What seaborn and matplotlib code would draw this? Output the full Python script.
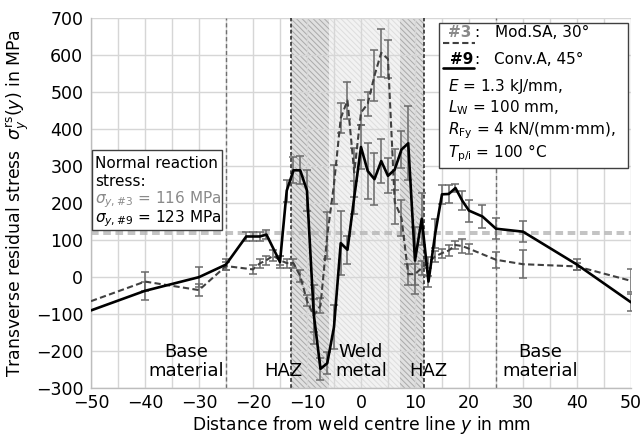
import matplotlib
matplotlib.use("Agg")
import numpy as np
import pandas as pd
import matplotlib.pyplot as plt
import seaborn as sns
from matplotlib.patches import Rectangle
from matplotlib.lines import Line2D

# Measurement positions y (mm) and transverse residual stress (MPa)
# Weld #9: Conv.A, 45 deg
y_9 = [-50, -40, -30, -25, -21.25, -20, -18.75, -17.5, -15, -13.75, -12.5, -11.25, -10,
       -8.75, -7.5, -6.25, -5, -3.75, -2.5, -1.25, 0, 1.25, 2.5, 3.75, 5, 6.25, 7.5, 8.75,
       10, 11.25, 12.5, 13.75, 15, 16.25, 17.5, 18.75, 20, 22.5, 25, 30, 40, 50]
stress_9 = [-90, -37, 0, 34, 110, 110, 110, 115, 41, 234, 289, 289, 234,
            -100, -248, -233, -135, 92, 74, 216, 352, 287, 265, 314, 274, 291, 345, 362,
            45, 158, -12, 118, 224, 225, 241, 207, 180, 164, 131, 123, 34, -68]
err_9 = [0, 25, 27, 15, 13, 13, 13, 13, 15, 30, 35, 38, 55,
         80, 30, 30, 60, 87, 38, 45, 60, 76, 70, 60, 47, 55, 50, 100,
         90, 70, 15, 40, 25, 25, 12, 25, 30, 30, 28, 28, 15, 23]

# Weld #3: Mod.SA, 30 deg
y_3 = [-50, -40, -30, -25, -20, -18.75, -17.5, -16.25, -15, -13.75, -12.5, -11.25, -10,
       -8.75, -7.5, -6.25, -5, -3.75, -2.5, -1.25, 0, 1.25, 2.5, 3.75, 5, 6.25, 7.5, 8.75,
       10, 11.25, 12.5, 13.75, 15, 16.25, 17.5, 18.75, 20, 25, 30, 40, 50]
stress_3 = [-65, -12, -35, 30, 21, 37, 46, 58, 46, 38, 38, 3, -64,
            -104, -77, 112, 251, 430, 478, 283, 445, 469, 545, 607, 590, 203, 160, 8,
            8, 25, 40, 56, 65, 72, 87, 84, 77, 47, 35, 29, -10]
err_3 = [0, 26, 16, 12, 12, 12, 12, 15, 12, 12, 12, 15, 15,
         45, 20, 63, 52, 40, 50, 67, 33, 33, 69, 65, 52, 60, 50, 28,
         28, 20, 15, 15, 12, 15, 12, 20, 14, 21, 38, 10, 31]

# Normal reaction stresses (MPa)
sigma_y3 = 116
sigma_y9 = 123

# Zone boundaries (mm)
haz_left = (-13, -6)
weld_metal = (-6, 7.3)
haz_right = (7.3, 11.6)
base_limits = [-25, 25]

x_ticks = list(range(-50, 51, 10))
y_ticks = list(range(-300, 701, 100))

sns.set_theme(style="whitegrid")
plt.rcParams['font.family'] = ['DejaVu Sans']
plt.rcParams['mathtext.fontset'] = 'dejavusans'
plt.rcParams['hatch.linewidth'] = 0.7

fig = plt.figure(figsize=(6.43, 4.37), dpi=100)
ax = fig.add_axes([0.1415, 0.112, 0.8398, 0.846])

# Zone shading
ax.axvspan(*haz_left, facecolor='#e0e0e0', edgecolor='#aaaaaa', hatch='\\\\\\\\\\\\', lw=0, zorder=0)
ax.axvspan(*haz_right, facecolor='#e0e0e0', edgecolor='#aaaaaa', hatch='\\\\\\\\\\\\', lw=0, zorder=0)
ax.axvspan(*weld_metal, facecolor='#f2f2f2', edgecolor='#dddddd', hatch='\\\\\\\\\\\\', lw=0, zorder=0)

# Zone boundaries
for xb in base_limits:
    ax.axvline(xb, color='#707070', lw=1.0, ls=(0, (3, 2)), zorder=2)
for xb in (haz_left[0], haz_right[1]):
    ax.axvline(xb, color='#202020', lw=1.1, ls=(0, (2.5, 1.5)), zorder=2)

# Normal reaction stress levels
for s in (sigma_y3, sigma_y9):
    ax.axhline(s, color='#b3b3b3', lw=1.1, ls=(0, (5, 3)), zorder=2)

# Error bars
def draw_errors(xs, ys, es):
    xs, ys, es = np.asarray(xs), np.asarray(ys), np.asarray(es)
    m = es > 0
    ax.errorbar(xs[m], ys[m], yerr=es[m], fmt='none', ecolor='#6a6a6a',
                elinewidth=1.1, capsize=3, capthick=1.1, zorder=3)

draw_errors(y_3, stress_3, err_3)
draw_errors(y_9, stress_9, err_9)

df3 = pd.DataFrame({'y': y_3, 'stress': stress_3})
df9 = pd.DataFrame({'y': y_9, 'stress': stress_9})
sns.lineplot(data=df3, x='y', y='stress', ax=ax, color='#404040', lw=1.5,
             dashes=False, sort=False, estimator=None, zorder=4, linestyle=(0, (3, 1.6)))
sns.lineplot(data=df9, x='y', y='stress', ax=ax, color='black', lw=1.9,
             sort=False, estimator=None, zorder=5)

# Axes
ax.set_xlim(-50, 50)
ax.set_ylim(-300, 700)
ax.set_xticks(x_ticks)
ax.set_xticks(list(range(-45, 50, 10)), minor=True)
ax.set_yticks(y_ticks)
ax.grid(which='both', color='#d6d6d6', lw=1.0)
ax.set_axisbelow(True)
for side in ('top', 'right'):
    ax.spines[side].set_visible(False)
for side in ('left', 'bottom'):
    ax.spines[side].set_color('#bdbdbd')
    ax.spines[side].set_linewidth(1.0)
ax.tick_params(axis='both', which='major', length=3, width=1, color='#bdbdbd',
               labelsize=12.5, labelcolor='black', pad=1.5)
ax.tick_params(axis='y', which='major', pad=2.5)
ax.tick_params(axis='both', which='minor', length=0)

ax.set_xlabel('Distance from weld centre line $y$ in mm', fontsize=12.3, color='black')
ax.xaxis.set_label_coords(0.5, -0.07)
ax.set_ylabel(r'Transverse residual stress  $\sigma^{\mathrm{rs}}_{y}(y)$ in MPa',
              fontsize=12.4, color='black')
ax.yaxis.set_label_coords(-0.112, 0.5)

# Zone labels
zone_kw = dict(fontsize=13, color='black', ha='center', va='center', linespacing=1.1, zorder=6)
ax.text(-32.3, -228, 'Base\nmaterial', **zone_kw)
ax.text(-14.3, -255, 'HAZ', **zone_kw)
ax.text(0, -228, 'Weld\nmetal', **zone_kw)
ax.text(12.5, -255, 'HAZ', **zone_kw)
ax.text(33.1, -228, 'Base\nmaterial', **zone_kw)

# Weld parameter box
ax.add_patch(Rectangle((14.4, 294), 35.0, 394.5, facecolor='white', edgecolor='#404040',
                       lw=1.0, zorder=7))
box_kw = dict(fontsize=11, color='black', va='center', ha='left', zorder=8)
ax.text(16.2, 661, '#3', fontweight='bold', **{**box_kw, 'color': '#8a8a8a'})
ax.text(20.9, 661, ':', **box_kw)
ax.add_line(Line2D([15.2, 21.2], [634, 634], color='#404040', lw=1.5, ls=(0, (3, 1.6)), zorder=8))
ax.text(24.9, 661, 'Mod.SA, 30°', **box_kw)
ax.text(16.4, 589, '#9', fontweight='bold', **box_kw)
ax.text(20.9, 589, ':', **box_kw)
ax.add_line(Line2D([15.2, 21.0], [564.5, 564.5], color='black', lw=1.9, zorder=8))
ax.text(24.7, 589, 'Conv.A, 45°', **box_kw)
ax.text(16.2, 516, '$E$ = 1.3 kJ/mm,', **box_kw)
ax.text(16.2, 459, r'$L_{\mathrm{W}}$ = 100 mm,', **box_kw)
ax.text(16.2, 395, r'$R_{\mathrm{Fy}}$ = 4 kN/(mm·mm),', **box_kw)
ax.text(16.2, 336, r'$T_{\mathrm{p/i}}$ = 100 °C', **box_kw)

# Normal reaction stress box
ax.add_patch(Rectangle((-49.8, 128), 24.1, 217, facecolor='white', edgecolor='#404040',
                       lw=1.0, zorder=7))
nr_kw = dict(fontsize=11, va='center', ha='left', zorder=8)
ax.text(-49.2, 307, 'Normal reaction', color='black', **nr_kw)
ax.text(-49.2, 258, 'stress:', color='black', **nr_kw)
ax.text(-49.2, 209, rf'$\sigma_{{y,\#3}}$ = {sigma_y3} MPa', color='#8a8a8a', **nr_kw)
ax.text(-49.2, 158, rf'$\sigma_{{y,\#9}}$ = {sigma_y9} MPa', color='black', **nr_kw)

fig.savefig('out.png', dpi=100)
